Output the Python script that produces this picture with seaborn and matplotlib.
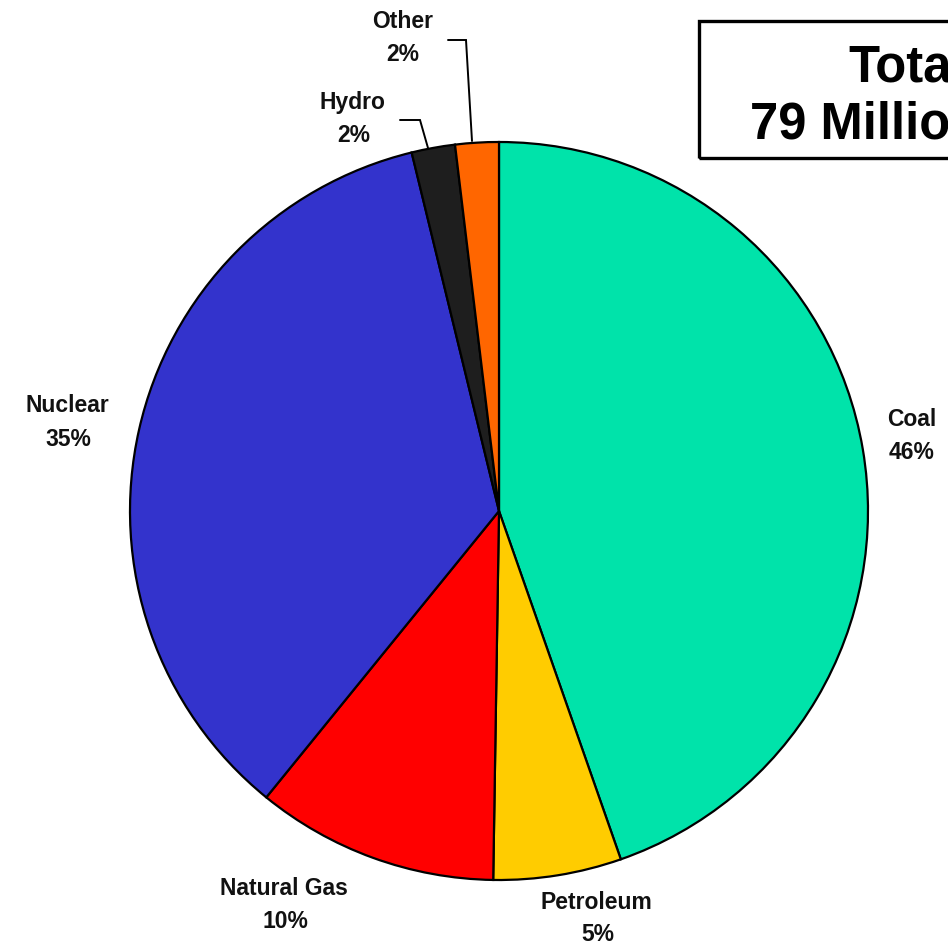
import matplotlib
matplotlib.use("Agg")
import matplotlib.pyplot as plt
from matplotlib.patches import Rectangle
import seaborn as sns

# ---- data ----
categories = ["Coal", "Petroleum", "Natural Gas", "Nuclear", "Hydro", "Other"]
values = [44.6, 5.6, 10.6, 35.3, 1.9, 1.9]
pct_labels = ["46%", "5%", "10%", "35%", "2%", "2%"]
colors = ["#00E3AA", "#FFCC00", "#FF0000", "#3333CC", "#1E1E1E", "#FF6600"]
title_lines = ["Total", "79 Million MWh"]

sns.set_theme(style="white")
plt.rcParams["font.family"] = ["Liberation Sans", "DejaVu Sans"]

W, H = 948, 945
fig = plt.figure(figsize=(W / 100, H / 100), dpi=100)
ax = fig.add_axes([0, 0, 1, 1])

ax.pie(values, colors=colors, startangle=90, counterclock=False,
       center=(499, H - 512), radius=369,
       wedgeprops=dict(edgecolor="black", linewidth=1.6))
ax.set_xlim(0, W)
ax.set_ylim(0, H)
ax.set_aspect("auto")
ax.axis("off")

# label positions (pixel coords, y from top): name centre, pct centre
label_pos = {
    "Coal": ((912, 420), (912, 453)),
    "Petroleum": ((596, 903), (598, 935)),
    "Natural Gas": ((284, 889), (285, 922)),
    "Nuclear": ((67, 406), (68, 440)),
    "Hydro": ((352, 103), (354, 136)),
    "Other": ((403, 22), (403, 55)),
}
for cat, pct in zip(categories, pct_labels):
    (nx, ny), (px, py) = label_pos[cat]
    ax.text(nx, H - ny, cat, ha="center", va="center", fontsize=16.5,
            fontweight="bold", color="#111111")
    ax.text(px, H - py, pct, ha="center", va="center", fontsize=16.5,
            fontweight="bold", color="#111111")

# leader lines
ax.plot([448, 466, 472], [H - 41, H - 41, H - 142], color="black", lw=1.4,
        solid_joinstyle="miter")
ax.plot([400, 420, 428], [H - 121, H - 121, H - 149], color="black", lw=1.4,
        solid_joinstyle="miter")

# title box (extends past right edge, as in the reference)
ax.add_patch(Rectangle((699, H - 159), 300, 137, fill=False, edgecolor="black",
                       linewidth=2.4, clip_on=True))
ax.text(848, H - 82, title_lines[0], ha="left", va="baseline", fontsize=36.5,
        fontweight="bold", color="black")
ax.text(750, H - 139, title_lines[1], ha="left", va="baseline", fontsize=36.5,
        fontweight="bold", color="black")

fig.savefig("out.png", dpi=100, facecolor="white")
